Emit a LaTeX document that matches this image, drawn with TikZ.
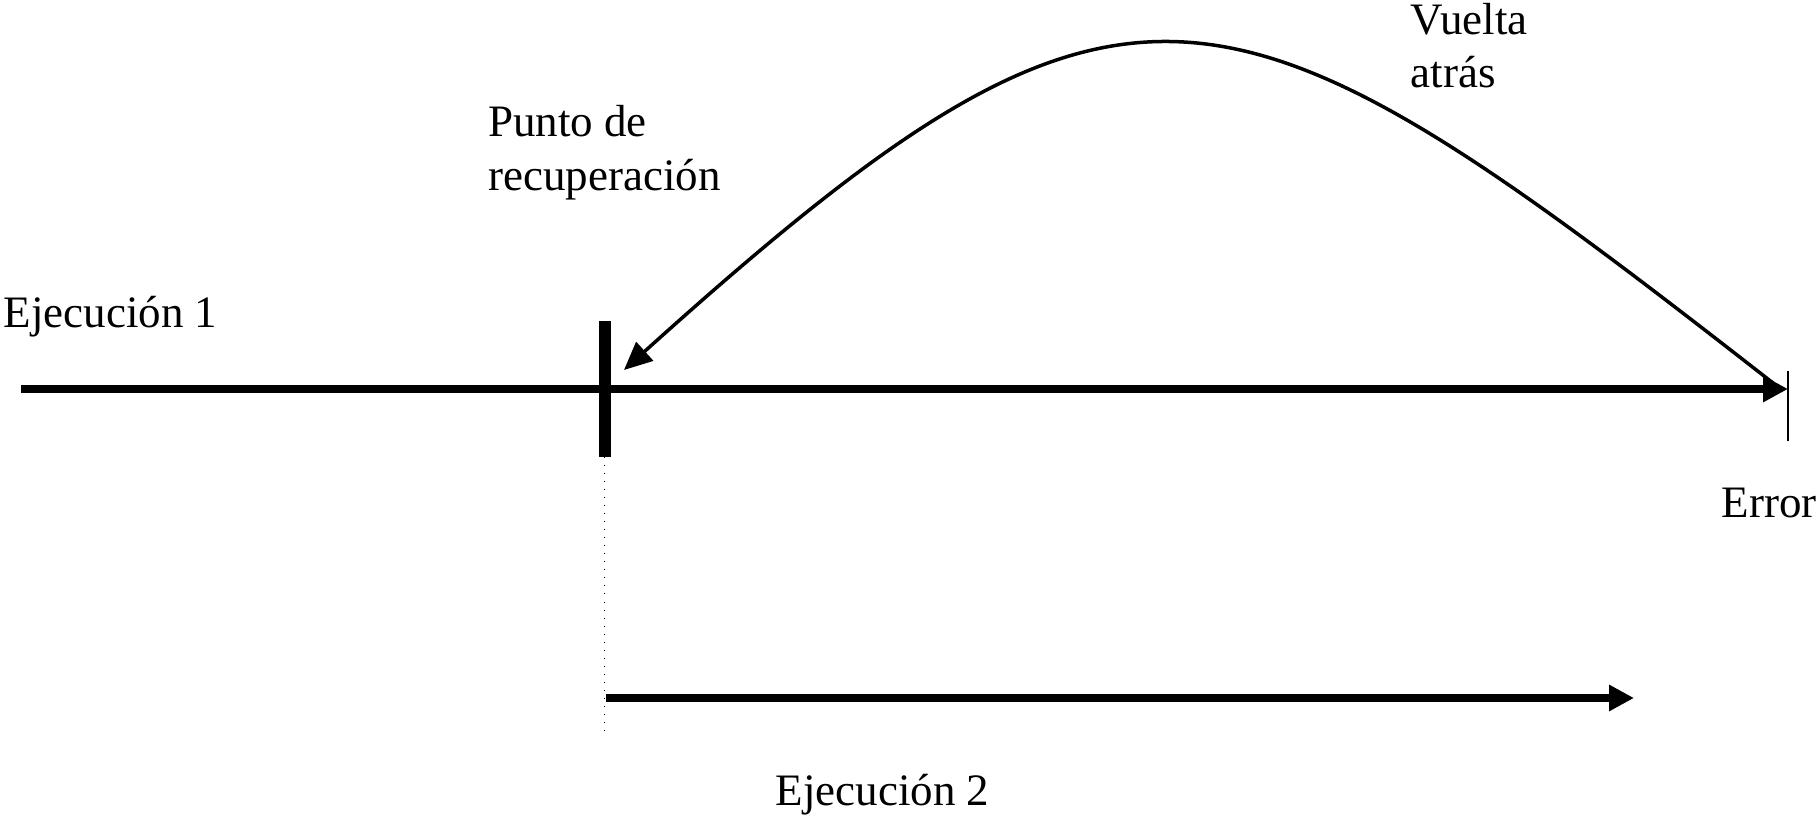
\documentclass[tikz,border=0pt]{standalone}
\usepackage{fontspec}
\setmainfont{Liberation Serif}
\usetikzlibrary{arrows.meta}
\usetikzlibrary{positioning}

\tikzset{
  lbl/.style={font=\fontsize{12.8}{15.3}\selectfont,text=black,inner sep=0pt,align=left},
  runline/.style={black,line width=0.08cm,-{Triangle[length=0.25cm,width=0.25cm]}},
}

\begin{document}
\begin{tikzpicture}
\useasboundingbox (0,0) rectangle (18.2,8.19);

% main run and recovery point
\coordinate (run1s) at (0.21,4.30);
\coordinate (run1e) at (17.88,4.30);
\coordinate (recT) at (6.045,4.98);
\coordinate (recB) at (6.045,3.62);
\coordinate (errT) at (17.88,4.48);
\coordinate (errB) at (17.88,3.78);
\draw[runline] (run1s) -- (run1e);
\draw[black,line width=0.12cm] (recT) -- (recB);
\draw[black,line width=0.02cm] (errT) -- (errB);

% rollback arc
\coordinate (back0) at (17.73,4.36);
\coordinate (back1) at (6.24,4.49);
\draw[black,line width=0.035cm,-{Triangle[length=0.28cm,width=0.25cm]}]
  (back0) .. controls (12.21,8.67) and (11.29,9.04) .. (back1);

% second run
\coordinate (dotB) at (6.045,0.88);
\coordinate (run2s) at (6.06,1.21);
\coordinate (run2e) at (16.34,1.21);
\draw[black,dotted,line width=0.01cm] (recB) -- (dotB);
\draw[runline] (run2s) -- (run2e);

\node[lbl,anchor=base west] (ej1) at (0.03,4.91) {Ejecución 1};
\node[lbl,anchor=base west] (pto) at (4.875,6.29) {Punto de\\recuperación};
\node[lbl,anchor=base west] (vta) at (14.10,7.31) {Vuelta\\atrás};
\node[lbl,anchor=base west] (err) at (17.21,3.02) {Error};
\node[lbl,anchor=base west] (ej2) at (7.75,0.14) {Ejecución 2};
\end{tikzpicture}
\end{document}
